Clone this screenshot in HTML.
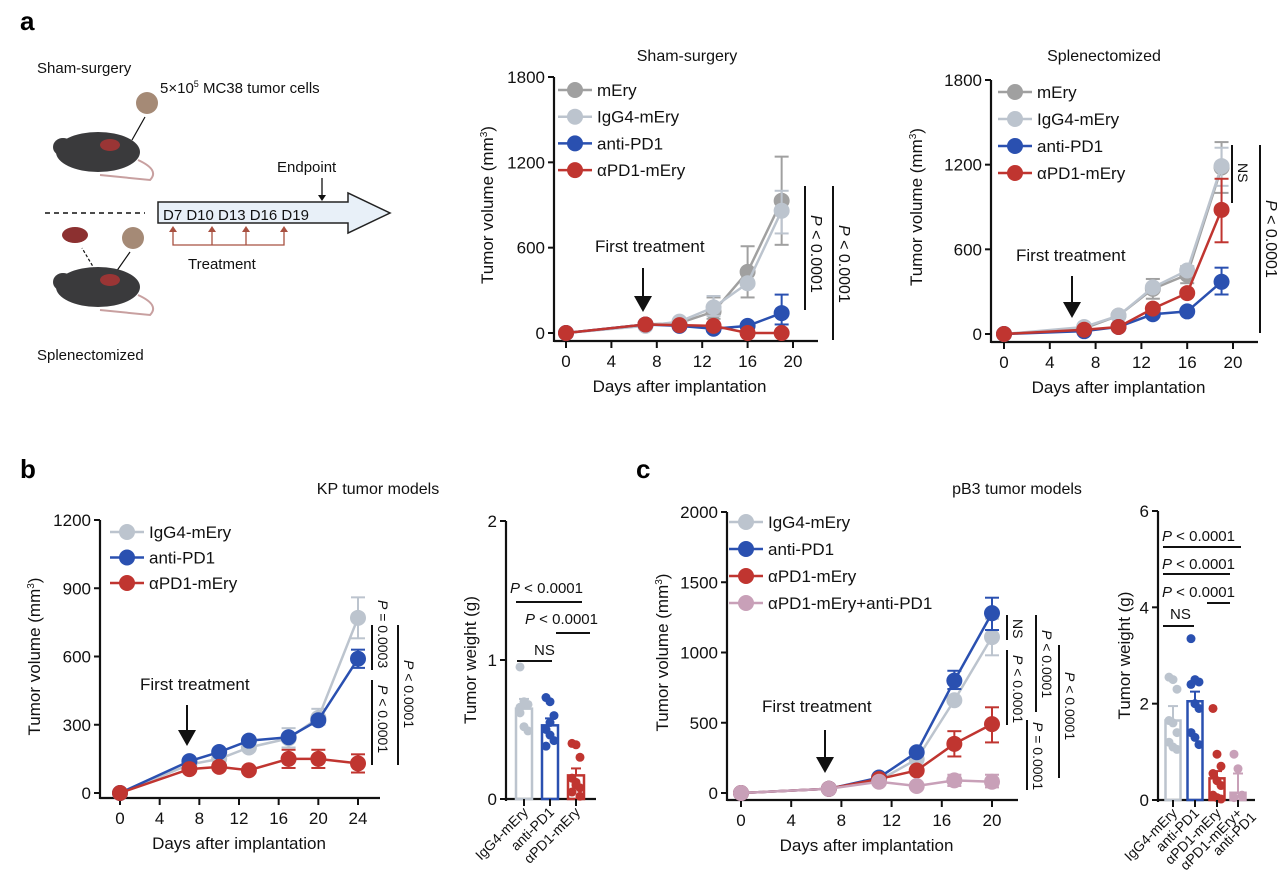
<!DOCTYPE html>
<html><head><meta charset="utf-8"><style>
html,body{margin:0;padding:0;background:#fff}
svg{display:block;font-family:"Liberation Sans",Arial,sans-serif}
</style></head><body>
<svg id="s" width="1280" height="893" viewBox="0 0 1280 893" xmlns="http://www.w3.org/2000/svg">
<rect width="1280" height="893" fill="#fff"/>
<g font-weight="bold" font-size="26" fill="#000">
<text x="20" y="30">a</text><text x="20" y="478">b</text><text x="636" y="478">c</text></g>
<g font-size="15" fill="#111">
<text x="37" y="73">Sham-surgery</text>
<text x="160" y="93">5×10<tspan font-size="9" dy="-6">5</tspan><tspan dy="6"> MC38 tumor cells</tspan></text>
<text x="37" y="360">Splenectomized</text>
<text x="277" y="172">Endpoint</text>
<text x="188" y="269">Treatment</text>
</g>
<circle cx="147" cy="103" r="11" fill="#a58a76"/><circle cx="133" cy="238" r="11" fill="#a58a76"/>
<line x1="145" y1="117" x2="132" y2="140" stroke="#111" stroke-width="1.2"/>
<line x1="130" y1="252" x2="116" y2="272" stroke="#111" stroke-width="1.2"/>
<line x1="95" y1="270" x2="82" y2="248" stroke="#111" stroke-width="1.2" stroke-dasharray="3,2"/>
<ellipse cx="75" cy="235" rx="13" ry="8" fill="#8c3030"/>
<g fill="#3a3a3c"><ellipse cx="98" cy="152" rx="42" ry="20"/><ellipse cx="63" cy="147" rx="10" ry="9"/>
<ellipse cx="98" cy="287" rx="42" ry="20"/><ellipse cx="63" cy="282" rx="10" ry="9"/></g>
<ellipse cx="110" cy="145" rx="10" ry="6" fill="#9a3535"/><ellipse cx="110" cy="280" rx="10" ry="6" fill="#9a3535"/>
<path d="M138,160 Q160,170 150,180 Q130,178 100,175" fill="none" stroke="#c8a0a0" stroke-width="2"/>
<path d="M138,295 Q160,305 150,315 Q130,313 100,310" fill="none" stroke="#c8a0a0" stroke-width="2"/>
<line x1="45" y1="213" x2="145" y2="213" stroke="#111" stroke-width="1.5" stroke-dasharray="5,4"/>
<path d="M158,202 H348 V193 L390,213 L348,233 V223 H158 Z" fill="#e8f0f8" stroke="#222" stroke-width="1.5"/>
<text x="163" y="220" font-size="15" fill="#111">D7  D10 D13 D16 D19</text>
<line x1="322" y1="178" x2="322" y2="197" stroke="#111" stroke-width="1.3"/><path d="M318,195 L326,195 L322,201Z" fill="#111"/>
<g stroke="#a85040" stroke-width="1.3" fill="none"><path d="M173,230 V245 H284 V230 M212,230 V245 M246,230 V245"/></g>
<g fill="#a85040"><path d="M169,232 L177,232 L173,226Z"/><path d="M208,232 L216,232 L212,226Z"/><path d="M242,232 L250,232 L246,226Z"/><path d="M280,232 L288,232 L284,226Z"/></g>
<g id="gen"></g>
</svg>
<script>
var G=document.getElementById('gen'),h='';
function T(x,y,t,o){o=o||{};h+='<text x="'+x+'" y="'+y+'" font-size="'+(o.s||15)+'" text-anchor="'+(o.a||'start')+'"'+(o.r!=null?' transform="rotate('+o.r+' '+x+' '+y+')"':'')+' fill="#111">'+t+'</text>';}
function L(a,b,c,d,col,w){h+='<line x1="'+a+'" y1="'+b+'" x2="'+c+'" y2="'+d+'" stroke="'+(col||'#111')+'" stroke-width="'+(w||2)+'"/>';}
function P(t){return '<tspan font-style="italic">P</tspan> '+t;}
var C={g:'#a0a0a0',l:'#bcc4ce',b:'#2a50b0',r:'#c03530',p:'#c8a0b8'};
function line(cfg){
 var ax=cfg.ax,y0=cfg.y0,yt=cfg.yt,ymax=cfg.ymax,x0=cfg.x0,x1=cfg.x1,xmax=cfg.xmax;
 function X(d){return x0+(x1-x0)*d/xmax;} function Y(v){return y0-(y0-yt)*v/ymax;}
 L(ax,yt,ax,cfg.xy+1,'#111',2.2);L(ax,cfg.xy,cfg.xe,cfg.xy,'#111',2.2);
 cfg.yticks.forEach(function(v){L(ax-6,Y(v),ax,Y(v));T(ax-9,Y(v)+6,v,{a:'end',s:17});});
 cfg.xticks.forEach(function(d){L(X(d),cfg.xy,X(d),cfg.xy+7);T(X(d),cfg.xy+26,d,{a:'middle',s:17});});
 T((x0+x1)/2,cfg.xy+51,'Days after implantation',{a:'middle',s:17});
 T(cfg.ylx,(yt+y0)/2,'Tumor volume (mm<tspan font-size="10" dy="-6">3</tspan><tspan dy="6">)</tspan>',{a:'middle',r:-90,s:17});
 cfg.series.forEach(function(s){
  var pts=s.d.map(function(v,i){return X(cfg.days[i])+','+Y(v);}).join(' ');
  h+='<polyline points="'+pts+'" fill="none" stroke="'+C[s.c]+'" stroke-width="2.5"/>';
  if(s.e)s.e.forEach(function(e){var x=X(cfg.days[e[0]]);L(x,Y(e[1]),x,Y(e[2]),C[s.c],2);L(x-7,Y(e[1]),x+7,Y(e[1]),C[s.c],2);L(x-7,Y(e[2]),x+7,Y(e[2]),C[s.c],2);});
  s.d.forEach(function(v,i){h+='<circle cx="'+X(cfg.days[i])+'" cy="'+Y(v)+'" r="8" fill="'+C[s.c]+'"/>';});
 });
 cfg.leg.forEach(function(l,i){var y=cfg.ly+i*cfg.ld;L(cfg.lx-17,y,cfg.lx+17,y,C[l[0]],2.5);h+='<circle cx="'+cfg.lx+'" cy="'+y+'" r="8" fill="'+C[l[0]]+'"/>';T(cfg.lx+22,y+6,l[1],{s:17});});
 T(cfg.ft[0],cfg.ft[1],'First treatment',{s:17});
 var ax2=cfg.ar[0];L(ax2,cfg.ar[1],ax2,cfg.ar[2]-14,'#111',2);h+='<path d="M'+(ax2-9)+','+(cfg.ar[2]-16)+' L'+(ax2+9)+','+(cfg.ar[2]-16)+' L'+ax2+','+cfg.ar[2]+'Z" fill="#111"/>';
 T(cfg.title[0],cfg.title[1],cfg.title[2],{a:'middle',s:16});
}
line({ax:554,y0:333,yt:77,ymax:1800,x0:566,x1:793,xmax:20,xy:341,xe:818,yticks:[0,600,1200,1800],xticks:[0,4,8,12,16,20],ylx:493,days:[0,7,10,13,16,19],
 series:[{c:'g',d:[0,60,70,150,430,930],e:[[3,100,250],[4,250,610],[5,620,1240]]},{c:'l',d:[0,50,80,180,350,860],e:[[3,120,260],[5,700,1000]]},{c:'b',d:[0,60,50,30,50,140],e:[[5,60,270]]},{c:'r',d:[0,60,55,50,0,0]}],
 leg:[['g','mEry'],['l','IgG4-mEry'],['b','anti-PD1'],['r','αPD1-mEry']],lx:575,ly:90,ld:26.7,ft:[595,252],ar:[643,268,312],title:[687,61,'Sham-surgery']});
L(805,186,805,310);T(811,215,P('&lt; 0.0001'),{r:90,s:16});L(833,186,833,340);T(839,225,P('&lt; 0.0001'),{r:90,s:16});
line({ax:991,y0:334,yt:80,ymax:1800,x0:1004,x1:1233,xmax:20,xy:342,xe:1258,yticks:[0,600,1200,1800],xticks:[0,4,8,12,16,20],ylx:922,days:[0,7,10,13,16,19],
 series:[{c:'g',d:[0,40,130,320,420,1180],e:[[3,250,390],[4,360,480],[5,1000,1360]]},{c:'l',d:[0,50,130,330,450,1190],e:[[5,1050,1320]]},{c:'b',d:[0,20,50,140,160,370],e:[[5,280,470]]},{c:'r',d:[0,30,50,180,290,880],e:[[5,650,1100]]}],
 leg:[['g','mEry'],['l','IgG4-mEry'],['b','anti-PD1'],['r','αPD1-mEry']],lx:1015,ly:92,ld:27,ft:[1016,261],ar:[1072,276,318],title:[1104,61,'Splenectomized']});
L(1232,145,1232,203);T(1238,163,'NS',{r:90,s:14});L(1260,145,1260,333);T(1266,200,P('&lt; 0.0001'),{r:90,s:16});
line({ax:100,y0:793,yt:520,ymax:1200,x0:120,x1:358,xmax:24,xy:798,xe:380,yticks:[0,300,600,900,1200],xticks:[0,4,8,12,16,20,24],ylx:40,days:[0,7,10,13,17,20,24],
 series:[{c:'l',d:[0,125,150,200,240,330,770],e:[[4,200,285],[5,300,370],[6,680,860]]},{c:'b',d:[0,140,180,230,245,320,590],e:[[6,550,630]]},{c:'r',d:[0,105,115,100,150,150,130],e:[[4,110,190],[5,110,190],[6,90,170]]}],
 leg:[['l','IgG4-mEry'],['b','anti-PD1'],['r','αPD1-mEry']],lx:127,ly:532,ld:25.5,ft:[140,690],ar:[187,705,746],title:[378,494,'KP tumor models']});
L(372,625,372,670);T(378,600,P('= 0.0003'),{r:90,s:14});L(372,680,372,765);T(378,685,P('&lt; 0.0001'),{r:90,s:14});L(398,625,398,765);T(404,660,P('&lt; 0.0001'),{r:90,s:14});
line({ax:727,y0:793,yt:512,ymax:2000,x0:741,x1:992,xmax:20,xy:800,xe:1018,yticks:[0,500,1000,1500,2000],xticks:[0,4,8,12,16,20],ylx:668,days:[0,7,11,14,17,20],
 series:[{c:'l',d:[0,30,90,240,660,1110],e:[[5,980,1240]]},{c:'b',d:[0,30,110,290,800,1280],e:[[4,740,870],[5,1160,1390]]},{c:'r',d:[0,30,100,160,350,490],e:[[4,260,440],[5,360,610]]},{c:'p',d:[0,30,80,50,90,80],e:[[4,50,130],[5,40,130]]}],
 leg:[['l','IgG4-mEry'],['b','anti-PD1'],['r','αPD1-mEry'],['p','αPD1-mEry+anti-PD1']],lx:746,ly:522,ld:27,ft:[762,712],ar:[825,730,773],title:[1017,494,'pB3 tumor models']});
L(1007,615,1007,640);T(1013,619,'NS',{r:90,s:14});L(1007,650,1007,725);T(1013,655,P('&lt; 0.0001'),{r:90,s:14});
L(1036,615,1036,712);T(1042,630,P('&lt; 0.0001'),{r:90,s:14});L(1027,720,1027,790);T(1033,722,P('= 0.0001'),{r:90,s:14});
L(1059,645,1059,778);T(1065,672,P('&lt; 0.0001'),{r:90,s:14});
function bar(cfg){
 var ax=cfg.ax,y0=cfg.y0,yt=cfg.yt,ym=cfg.ym;function Y(v){return y0-(y0-yt)*v/ym;}
 L(ax,yt,ax,y0+2,'#111',2.2);L(ax,y0,cfg.xe,y0,'#111',2.2);
 cfg.yt2.forEach(function(v){L(ax-6,Y(v),ax,Y(v));T(ax-9,Y(v)+6,v,{a:'end',s:17});});
 T(cfg.ylx,(yt+y0)/2,'Tumor weight (g)',{a:'middle',r:-90,s:17});
 cfg.bars.forEach(function(b){var x=b[0],c=C[b[1]],w=cfg.bw;
  h+='<rect x="'+(x-w/2)+'" y="'+Y(b[2])+'" width="'+w+'" height="'+(y0-Y(b[2]))+'" fill="none" stroke="'+c+'" stroke-width="2.5"/>';
  L(x,Y(b[2]),x,Y(b[3]),c,2);L(x-5,Y(b[3]),x+5,Y(b[3]),c,2);
  b[4].forEach(function(v,i){h+='<circle cx="'+(x+((i%3)-1)*4)+'" cy="'+Y(v)+'" r="4.5" fill="'+c+'"/>';});
  L(x,y0,x,y0+7);
  b[5].forEach(function(t,j){T(x+5+j*14,y0+14+j*4,t,{a:'end',r:-45,s:14});});
 });
 cfg.sig.forEach(function(s){L(s[0],s[2],s[1],s[2],'#111',2);T(s[3],s[4],s[5],{s:15,a:s[6]||'start'});});
}
bar({ax:506,y0:799,yt:521,ym:2,xe:596,bw:16,yt2:[0,1,2],ylx:476,
 bars:[[524,'l',0.65,0.72,[0.95,0.7,0.68,0.62,0.52,0.49,0.66]],[550,'b',0.53,0.58,[0.73,0.7,0.6,0.5,0.46,0.42,0.38,0.55]],[576,'r',0.17,0.22,[0.4,0.39,0.3,0.15,0.1,0.08,0.05,0.12,0.02]]].map(function(b,i){b.push([['IgG4-mEry'],['anti-PD1'],['αPD1-mEry']][i]);return b;}),
 sig:[[516,582,602,510,593,P('&lt; 0.0001')],[556,590,633,525,624,P('&lt; 0.0001')],[517,552,661,534,655,'NS']]});
bar({ax:1158,y0:800,yt:511,ym:6,xe:1255,bw:15,yt2:[0,2,4,6],ylx:1130,
 bars:[[1173,'l',1.65,1.95,[2.55,2.5,2.3,1.65,1.6,1.4,1.2,1.1,1.05]],[1195,'b',2.05,2.25,[3.35,2.5,2.45,2.4,2.0,1.9,1.4,1.3,1.15]],[1217,'r',0.45,0.6,[1.9,0.95,0.7,0.55,0.4,0.3,0.1,0.05,0.02]],[1238,'p',0.15,0.55,[0.95,0.65,0.1,0.05]]].map(function(b,i){b.push([['IgG4-mEry'],['anti-PD1'],['αPD1-mEry'],['αPD1-mEry+','anti-PD1']][i]);return b;}),
 sig:[[1163,1241,547,1162,541,P('&lt; 0.0001')],[1163,1230,574,1162,569,P('&lt; 0.0001')],[1207,1230,603,1162,597,P('&lt; 0.0001')],[1163,1194,626,1170,619,'NS']]});
G.innerHTML=h;
</script>
</body></html>
